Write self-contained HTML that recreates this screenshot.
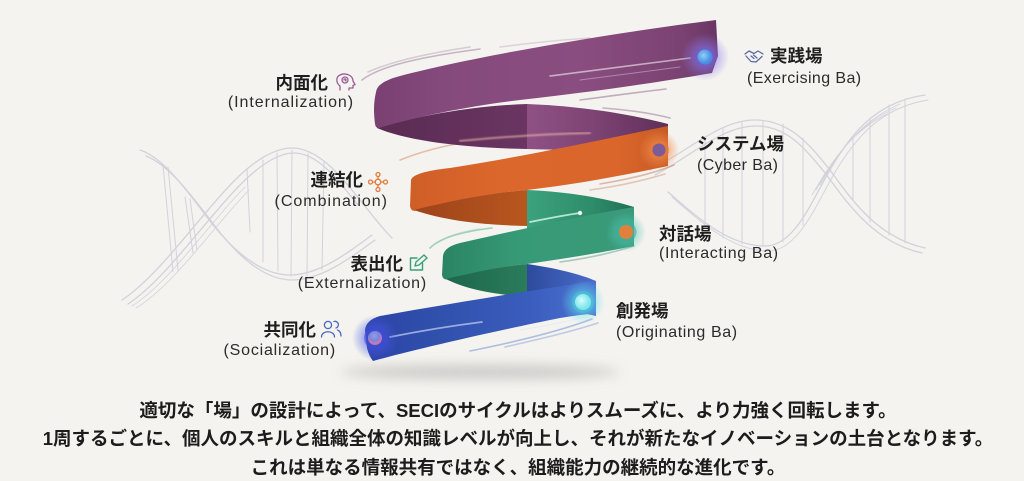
<!DOCTYPE html>
<html><head><meta charset="utf-8">
<style>
html,body{margin:0;padding:0;}
body{width:1024px;height:481px;overflow:hidden;background:#f4f3ef;position:relative;font-family:"Liberation Sans","Noto Sans CJK JP",sans-serif;}
svg.bg{position:absolute;left:0;top:0;}
.j{position:absolute;font-family:"Liberation Sans","Noto Sans CJK JP",sans-serif;font-weight:700;font-size:17.5px;line-height:17.5px;color:#1e1e1e;white-space:nowrap;}
.e{position:absolute;font-family:"Liberation Sans","Noto Sans CJK JP",sans-serif;font-size:16px;line-height:16px;color:#2b2b2b;white-space:nowrap;letter-spacing:0.4px;}
.b{position:absolute;left:0;width:1036px;text-align:center;font-family:"Liberation Sans","Noto Sans CJK JP",sans-serif;font-weight:700;font-size:18.5px;line-height:18.5px;color:#1c1c1c;white-space:nowrap;}
</style></head>
<body>
<svg class="bg" width="1024" height="481" viewBox="0 0 1024 481" xmlns="http://www.w3.org/2000/svg">
<defs>
<linearGradient id="pf" gradientUnits="userSpaceOnUse" x1="375" y1="0" x2="716" y2="0">
<stop offset="0" stop-color="#7a4072"/><stop offset=".2" stop-color="#854a7c"/><stop offset=".6" stop-color="#8a4d80"/><stop offset=".9" stop-color="#7a4272"/><stop offset="1" stop-color="#6a3664"/></linearGradient>
<linearGradient id="pi" gradientUnits="userSpaceOnUse" x1="375" y1="0" x2="668" y2="0">
<stop offset="0" stop-color="#5a2b53"/><stop offset=".519" stop-color="#6a3562"/><stop offset=".519" stop-color="#8f5184"/><stop offset=".75" stop-color="#7d4373"/><stop offset="1" stop-color="#5f2f59"/></linearGradient>
<linearGradient id="of" gradientUnits="userSpaceOnUse" x1="410" y1="0" x2="668" y2="0">
<stop offset="0" stop-color="#cf5e27"/><stop offset=".35" stop-color="#dc672c"/><stop offset=".8" stop-color="#da662b"/><stop offset="1" stop-color="#c85b25"/></linearGradient>
<linearGradient id="oi" gradientUnits="userSpaceOnUse" x1="410" y1="0" x2="527" y2="0">
<stop offset="0" stop-color="#9c431a"/><stop offset="1" stop-color="#b9561f"/></linearGradient>
<linearGradient id="gb" gradientUnits="userSpaceOnUse" x1="527" y1="0" x2="634" y2="0">
<stop offset="0" stop-color="#3ba27e"/><stop offset=".6" stop-color="#2e8d6b"/><stop offset="1" stop-color="#216f56"/></linearGradient>
<linearGradient id="gf" gradientUnits="userSpaceOnUse" x1="442" y1="0" x2="634" y2="0">
<stop offset="0" stop-color="#2a8463"/><stop offset=".4" stop-color="#379a76"/><stop offset="1" stop-color="#3a9a7a"/></linearGradient>
<linearGradient id="gi" gradientUnits="userSpaceOnUse" x1="442" y1="0" x2="527" y2="0">
<stop offset="0" stop-color="#1d654b"/><stop offset="1" stop-color="#2a7c5c"/></linearGradient>
<linearGradient id="bb" gradientUnits="userSpaceOnUse" x1="527" y1="0" x2="596" y2="0">
<stop offset="0" stop-color="#2d4a9c"/><stop offset="1" stop-color="#4a6dcc"/></linearGradient>
<linearGradient id="bf" gradientUnits="userSpaceOnUse" x1="365" y1="0" x2="596" y2="0">
<stop offset="0" stop-color="#2c42a8"/><stop offset=".3" stop-color="#3050ac"/><stop offset=".7" stop-color="#3a5cbc"/><stop offset="1" stop-color="#4b72d2"/></linearGradient>
<radialGradient id="gl1"><stop offset="0" stop-color="#8c78ee" stop-opacity=".95"/><stop offset=".5" stop-color="#8c78ee" stop-opacity=".45"/><stop offset="1" stop-color="#8c78ee" stop-opacity="0"/></radialGradient>
<radialGradient id="gl2"><stop offset="0" stop-color="#f28a48" stop-opacity=".95"/><stop offset=".5" stop-color="#f28a48" stop-opacity=".5"/><stop offset="1" stop-color="#f28a48" stop-opacity="0"/></radialGradient>
<radialGradient id="gl3"><stop offset="0" stop-color="#4fc8b4" stop-opacity=".95"/><stop offset=".5" stop-color="#4fc8b4" stop-opacity=".45"/><stop offset="1" stop-color="#4fc8b4" stop-opacity="0"/></radialGradient>
<radialGradient id="gl4"><stop offset="0" stop-color="#5fe0ea" stop-opacity=".95"/><stop offset=".5" stop-color="#5fe0ea" stop-opacity=".45"/><stop offset="1" stop-color="#5fe0ea" stop-opacity="0"/></radialGradient>
<radialGradient id="gl5"><stop offset="0" stop-color="#4a5ae6" stop-opacity=".95"/><stop offset=".5" stop-color="#4a5ae6" stop-opacity=".45"/><stop offset="1" stop-color="#4a5ae6" stop-opacity="0"/></radialGradient>
<radialGradient id="c1" cx=".4" cy=".4"><stop offset="0" stop-color="#8fd0fa"/><stop offset="1" stop-color="#4a8ee0"/></radialGradient>
<radialGradient id="c4" cx=".4" cy=".4"><stop offset="0" stop-color="#d6fcfc"/><stop offset="1" stop-color="#7ee6ec"/></radialGradient>
<radialGradient id="c5" cx=".45" cy=".35"><stop offset="0" stop-color="#8aa0ee"/><stop offset=".7" stop-color="#7a84d8"/><stop offset="1" stop-color="#c07ab8"/></radialGradient>
<filter id="blur6" x="-50%" y="-200%" width="200%" height="500%"><feGaussianBlur stdDeviation="6"/></filter>
<filter id="blur1"><feGaussianBlur stdDeviation="0.8"/></filter>
</defs>

<!-- DNA left -->
<g fill="none" stroke="#d2d2dc" stroke-width="1.3" stroke-linecap="round">
<path d="M122,300 C160,275 200,215 235,180 C255,160 275,148 292,148 C318,148 340,175 360,200 C372,215 382,228 392,238"/>
<path d="M128,304 C166,279 206,219 241,184 C261,164 279,153 294,153 C318,153 338,180 358,205"/>
<path d="M132,306 C170,282 210,222 245,187" stroke-width="0.8"/>
<path d="M136,308 C174,285 214,226 249,190" stroke-width="0.8"/>
<path d="M140,150 C165,158 190,195 213,225 C235,252 262,275 290,275 C318,275 345,255 372,235"/>
<path d="M146,156 C170,165 195,200 218,230 C240,258 265,280 292,280 C320,280 348,260 375,240"/>
<path d="M163,165 L173,272 M168,167 L178,270 M185,197 L193,253 M190,199 L197,250 M247,170 L250,232 M263,160 L263,262 M277,153 L278,271 M292,150 L291,276 M308,153 L307,276 M324,162 L322,270" stroke-width="1"/>
</g>
<!-- DNA right -->
<g fill="none" stroke="#d2d2dc" stroke-width="1.3" stroke-linecap="round">
<path d="M650,170 C690,150 720,120 755,120 C790,120 810,145 830,170 C855,205 880,238 925,248"/>
<path d="M655,175 C693,155 722,126 756,126 C788,126 806,150 826,174 C851,209 877,243 922,253"/>
<path d="M668,192 C700,220 730,246 765,246 C795,246 812,200 830,170 C850,135 875,102 925,95"/>
<path d="M672,197 C704,225 734,251 768,251 C798,251 816,205 834,174 C854,140 879,108 928,100" stroke-width="0.9"/>
<path d="M820,185 C840,150 862,120 900,104 M816,190 C836,155 858,124 896,108 M812,195 C832,160 854,128 892,112" stroke-width="0.8"/>
<path d="M705,140 L705,225 M723,128 L723,238 M742,122 L742,244 M763,121 L763,246 M783,124 L783,242 M803,138 L803,225 M853,138 L853,200 M870,118 L870,222 M889,105 L889,235 M905,99 L905,243" stroke-width="1"/>
</g>

<!-- shadow -->
<ellipse cx="480" cy="372" rx="140" ry="7" fill="#a9a9a9" opacity=".55" filter="url(#blur6)"/>

<!-- motion lines back -->
<g fill="none" stroke-linecap="round" stroke-width="1.6">
<path d="M362,80 C380,66 420,57 480,49" stroke="#a58aa5" opacity=".6"/>
<path d="M368,72 C392,61 430,53 470,47" stroke="#b7a2b7" opacity=".5"/>
<path d="M500,47 C530,43 560,40 590,38" stroke="#b7a2b7" opacity=".4"/>
<path d="M580,100 C610,96 640,92 666,89" stroke="#9d7c9d" opacity=".6"/>
<path d="M603,108 C630,110 650,113 670,118" stroke="#9d7c9d" opacity=".55"/>
<path d="M400,160 C430,148 460,142 500,138" stroke="#e0a488" opacity=".7"/>
<path d="M600,184 C630,179 655,173 674,165" stroke="#c98f74" opacity=".6"/>
<path d="M590,190 C620,186 645,180 665,174" stroke="#c98f74" opacity=".45"/>
<path d="M430,248 C440,238 460,232 492,228" stroke="#7fbfa8" opacity=".7"/>
<path d="M437,243 C447,236 465,231 480,229" stroke="#9fcfbd" opacity=".5"/>
<path d="M560,262 C590,258 615,252 634,246" stroke="#6fae98" opacity=".6"/>
<path d="M470,351 C520,341 560,331 592,319" stroke="#8aa0d8" opacity=".65"/>
<path d="M505,347 C540,339 570,332 598,323" stroke="#8aa0d8" opacity=".5"/>
</g>

<!-- purple inner (back) -->
<path d="M377,127 C420,116 470,106 527,104 C580,106 630,114 668,124 L668,152 C620,152 570,150 527,149 C470,148 410,142 377,128 Z" fill="url(#pi)"/>
<!-- purple front -->
<path d="M716,20 C620,32 480,55 400,76 Q377,82 376,92 C373,105 374,115 375,124 Q376,130 382,127 C420,116 470,106 520,100 C600,91 660,82 712,73 L718,56 Z" fill="url(#pf)"/>

<!-- orange front -->
<path d="M668,126 C600,140 527,156 450,168 Q413,172 411,180 L410,206 Q411,213 418,210 C450,201 490,193 527,190 C580,184 630,174 668,166 Z" fill="url(#of)"/>
<!-- orange inner -->
<path d="M414,210 C450,201 490,193 527,190 L527,226 C485,225 445,221 414,210 Z" fill="url(#oi)"/>
<!-- green back -->
<path d="M527,190 C570,192 605,198 634,207 L634,232 C600,230 560,230 527,228 Z" fill="url(#gb)"/>
<!-- green front -->
<path d="M634,207 C580,216 527,228 460,243 Q444,247 443,256 L442,275 Q443,281 450,279 C480,271 505,266 527,264 C570,258 610,251 634,246 Z" fill="url(#gf)"/>
<!-- green inner -->
<path d="M446,279 C480,271 505,266 527,264 L527,297 C492,294 465,289 446,279 Z" fill="url(#gi)"/>
<!-- blue back -->
<path d="M527,264 C555,268 580,274 596,281 L596,316 C575,312 550,303 527,297 Z" fill="url(#bb)"/>
<!-- blue front -->
<path d="M596,281 C560,286 470,300 380,316 Q366,320 365,330 L367,348 Q369,356 373,361 C420,348 500,330 560,318 C578,315 590,314 596,313 Z" fill="url(#bf)"/>

<!-- highlights -->
<g fill="none" stroke-linecap="round">
<path d="M550,76 C600,70 650,63 690,58" stroke="#ffffff" stroke-width="1.6" opacity=".55"/>
<path d="M580,80 C620,75 650,71 680,67" stroke="#ffffff" stroke-width="1" opacity=".35"/>
<path d="M460,141 C500,137 550,134 590,133" stroke="#f3c0b0" stroke-width="2" opacity=".6" filter="url(#blur1)"/>
<path d="M530,222 C550,218 565,215 580,213" stroke="#e8fff6" stroke-width="1.8" opacity=".75"/>
<path d="M390,337 C420,331 450,326 482,322" stroke="#dfe8ff" stroke-width="1.8" opacity=".6"/>
<path d="M520,330 C545,326 565,322 580,318" stroke="#cfe0ff" stroke-width="1" opacity=".35"/>
</g>
<circle cx="580" cy="213" r="2.2" fill="#ffffff" opacity=".9"/>

<!-- nodes -->
<circle cx="705" cy="57" r="24" fill="url(#gl1)"/>
<circle cx="705" cy="57" r="11" fill="#6a5cc8" opacity=".5"/>
<circle cx="705" cy="57" r="7.5" fill="url(#c1)"/>

<circle cx="659" cy="150" r="20" fill="url(#gl2)"/>
<circle cx="659" cy="150" r="10" fill="#e27a3c" opacity=".6"/>
<circle cx="659" cy="150" r="6.5" fill="#7d5a98"/>

<circle cx="626" cy="232" r="20" fill="url(#gl3)"/>
<circle cx="626" cy="232" r="10.5" fill="#3fa894" opacity=".55"/>
<circle cx="626" cy="232" r="7" fill="#e0803a"/>

<circle cx="583" cy="302" r="22" fill="url(#gl4)"/>
<circle cx="583" cy="302" r="11" fill="#48c8d4" opacity=".5"/>
<circle cx="583" cy="302" r="8" fill="url(#c4)"/>

<circle cx="375" cy="338" r="23" fill="url(#gl5)"/>
<circle cx="375" cy="338" r="11" fill="#3a48d0" opacity=".55"/>
<circle cx="375" cy="338" r="7" fill="url(#c5)"/>

<!-- icons -->
<g fill="none" stroke="#9c5c96" stroke-width="1.3" stroke-linecap="round" stroke-linejoin="round">
<path d="M340,90 L340,86 C336,83 335.5,77 340,75 C345,72.5 353,75 353,81 L355,84.5 L353,85.5 L353,88 L349,88 L349,90"/>
<circle cx="345" cy="80" r="3"/>
<path d="M345,80 m-1,0 a1,1 0 1 1 1.5,0.8"/>
</g>
<g fill="none" stroke="#e07b3d" stroke-width="1.3">
<circle cx="378" cy="182" r="2.8"/>
<circle cx="378" cy="174.5" r="2"/>
<circle cx="370.5" cy="182" r="2"/>
<circle cx="385.5" cy="182" r="2"/>
<circle cx="378" cy="189.5" r="2"/>
<path d="M378,176.5 L378,179.2 M372.5,182 L375.2,182 M380.8,182 L383.5,182 M378,184.8 L378,187.5"/>
</g>
<g fill="none" stroke="#3aa07a" stroke-width="1.4" stroke-linecap="round" stroke-linejoin="round">
<path d="M417,258 L410.5,258 L410.5,270 L422.5,270 L422.5,263"/>
<path d="M415,266 L416,262 L424,255 L427,258 L419,265 Z"/>
</g>
<g fill="none" stroke="#4a68c0" stroke-width="1.3" stroke-linecap="round">
<circle cx="328" cy="325" r="3.6"/>
<path d="M321.5,337 C321.5,330 334.5,330 334.5,337"/>
<path d="M334,321.5 A3.2,3.2 0 1 1 336,328"/>
<path d="M337.5,330 C340,331 341,333.5 341,336"/>
</g>
<g fill="none" stroke="#5b6aa6" stroke-width="1.3" stroke-linecap="round" stroke-linejoin="round">
<path d="M745,54 L749,51 L754,53.5 L758,51 L763,54"/>
<path d="M746,56 L751,61.5 L756,62 L762,56.5"/>
<path d="M751,56 L754,58.5 M753.5,55 L757,58"/>
</g>
</svg>

<!-- left labels -->
<div class="j" style="right:696px;top:74.5px;">内面化</div>
<div class="e" style="right:670px;top:95px;letter-spacing:0.93px;">(Internalization)</div>
<div class="j" style="right:661px;top:172px;">連結化</div>
<div class="e" style="right:636px;top:194px;letter-spacing:1px;">(Combination)</div>
<div class="j" style="right:621px;top:255.5px;">表出化</div>
<div class="e" style="right:597px;top:276px;letter-spacing:0.8px;">(Externalization)</div>
<div class="j" style="right:708px;top:321.5px;">共同化</div>
<div class="e" style="right:688px;top:343px;letter-spacing:0.8px;">(Socialization)</div>

<!-- right labels -->
<div class="j" style="left:770px;top:47.5px;">実践場</div>
<div class="e" style="left:747px;top:71px;">(Exercising Ba)</div>
<div class="j" style="left:697px;top:135.5px;">システム場</div>
<div class="e" style="left:697px;top:158px;">(Cyber Ba)</div>
<div class="j" style="left:659px;top:226px;">対話場</div>
<div class="e" style="left:659px;top:246px;letter-spacing:0.65px;">(Interacting Ba)</div>
<div class="j" style="left:616px;top:302.5px;">創発場</div>
<div class="e" style="left:616px;top:325px;letter-spacing:0.6px;">(Originating Ba)</div>

<!-- bottom text -->
<div class="b" style="top:401.5px;">適切な「場」の設計によって、SECIのサイクルはよりスムーズに、より力強く回転します。</div>
<div class="b" style="top:429.5px;">1周するごとに、個人のスキルと組織全体の知識レベルが向上し、それが新たなイノベーションの土台となります。</div>
<div class="b" style="top:458.5px;">これは単なる情報共有ではなく、組織能力の継続的な進化です。</div>
</body></html>
